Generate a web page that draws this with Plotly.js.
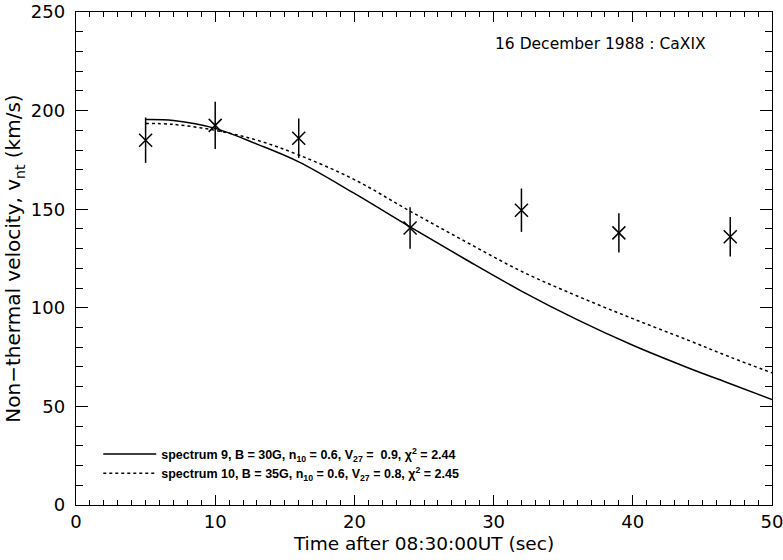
<!DOCTYPE html>
<html>
<head>
<meta charset="utf-8">
<script src="https://cdn.plot.ly/plotly-3.0.1.min.js"></script>
<style>html,body{margin:0;padding:0;background:#fff}#chart{width:783px;height:560px}</style>
</head>
<body>
<div id="chart"></div>
<script>
// observed data (Ca XIX non-thermal velocity)
var obsTime = [5, 10, 16, 24, 32, 39, 47];
var obsVel  = [185, 192.5, 186, 140.5, 149.5, 138, 136];
var obsErr  = [11.5, 12, 10, 10.5, 11, 10, 10];

// model curves
var modelTime = [5, 7, 10, 13, 16, 20, 24, 28, 32, 36, 40, 44, 47, 50];
var spec9Vel  = [195.5, 195, 191, 183, 174, 158, 141, 124.5, 108.5, 94, 81, 69.5, 61.5, 53.5];
var spec10Vel = [193.5, 193, 190, 185, 177.5, 165, 149, 133.5, 118.5, 106, 94.5, 83.5, 75, 67];

var spec9Label  = 'spectrum 9, B = 30G, n<sub>10</sub> = 0.6, V<sub>27</sub> =  0.9, χ<sup>2</sup> = 2.44';
var spec10Label = 'spectrum 10, B = 35G, n<sub>10</sub> = 0.6, V<sub>27</sub> = 0.8, χ<sup>2</sup> = 2.45';

var xTickVals = [0, 10, 20, 30, 40, 50];
var yTickVals = [0, 50, 100, 150, 200, 250];

var font = 'DejaVu Sans, Liberation Sans, sans-serif';
var legFont = 'Liberation Sans, Arial, sans-serif';

var traces = [
  {x: modelTime, y: spec9Vel, mode: 'lines', name: spec9Label,
   line: {color: '#000', width: 1.5, shape: 'spline'}},
  {x: modelTime, y: spec10Vel, mode: 'lines', name: spec10Label,
   line: {color: '#000', width: 1.5, dash: 'dot', shape: 'spline'}},
  {x: obsTime, y: obsVel, mode: 'markers', showlegend: false,
   marker: {symbol: 'x-thin', size: 13, color: '#000', line: {color: '#000', width: 1.5}},
   error_y: {type: 'data', array: obsErr, visible: true, color: '#000', thickness: 1.5, width: 0}},
  // empty trace so that the top/right frame axes are drawn
  {x: [], y: [], xaxis: 'x2', yaxis: 'y2', mode: 'lines', showlegend: false, hoverinfo: 'skip'}
];

function ax(extra) {
  return Object.assign({
    showgrid: false, zeroline: false, showline: true, linecolor: '#000', linewidth: 1.2,
    ticks: 'inside', tickcolor: '#000', tickwidth: 1.2, mirror: false,
    ticklabeloverflow: 'allow',
    tickfont: {family: font, size: 18, color: '#000'}
  }, extra);
}

var layout = {
  width: 783, height: 560,
  margin: {l: 76, r: 11, t: 12, b: 55},
  paper_bgcolor: '#fff', plot_bgcolor: '#fff',
  showlegend: true,
  legend: {x: 0.032, y: 0.133, xanchor: 'left', yanchor: 'top', bgcolor: 'rgba(0,0,0,0)',
           font: {family: legFont, size: 12.5, color: '#000', weight: 'bold'}, itemwidth: 53},
  xaxis: ax({
    range: [0, 50], tickvals: xTickVals, ticklen: 10,
    minor: {dtick: 1, ticklen: 5, ticks: 'inside', tickcolor: '#000', tickwidth: 1},
    title: {text: 'Time after 08:30:00UT (sec)', font: {family: font, size: 18.5, color: '#000'}, standoff: 6}
  }),
  yaxis: ax({
    range: [0, 250], tickvals: yTickVals, ticklen: 12, ticklabelstandoff: 6,
    minor: {dtick: 10, ticklen: 7, ticks: 'inside', tickcolor: '#000', tickwidth: 1},
    title: {text: 'Non\u2212thermal velocity, v<sub>nt</sub> (km/s)', font: {family: font, size: 20, color: '#000'}, standoff: 4}
  }),
  xaxis2: ax({
    overlaying: 'x', side: 'top', anchor: 'y2', range: [0, 50], tickvals: xTickVals, ticklen: 10,
    showticklabels: false,
    minor: {dtick: 1, ticklen: 5, ticks: 'inside', tickcolor: '#000', tickwidth: 1}
  }),
  yaxis2: ax({
    overlaying: 'y', side: 'right', anchor: 'x2', range: [0, 250], tickvals: yTickVals, ticklen: 12,
    showticklabels: false,
    minor: {dtick: 10, ticklen: 7, ticks: 'inside', tickcolor: '#000', tickwidth: 1}
  }),
  annotations: [{
    text: '16 December 1988 : CaXIX', xref: 'paper', yref: 'paper',
    x: 0.908, y: 0.935, xanchor: 'right', yanchor: 'middle', showarrow: false,
    font: {family: font, size: 15.5, color: '#000'}
  }]
};

Plotly.newPlot('chart', traces, layout, {displayModeBar: false, staticPlot: true});
</script>
</body>
</html>
